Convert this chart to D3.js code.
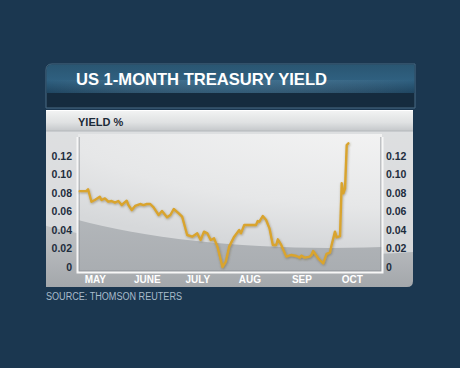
<!DOCTYPE html>
<html>
<head>
<meta charset="utf-8">
<script src="https://cdn.jsdelivr.net/npm/d3@7"></script>
<style>
  html, body { margin: 0; padding: 0; background: #1b3750; }
  svg { display: block; }
  text { font-family: "Liberation Sans", Arial, sans-serif; }
</style>
</head>
<body>
<svg id="chart" width="460" height="368"></svg>
<script>
// ---- data ----
const dates = ["2013-04-22","2013-04-26","2013-04-27","2013-04-29","2013-05-01","2013-05-04","2013-05-05","2013-05-07","2013-05-09","2013-05-11",
  "2013-05-13","2013-05-15","2013-05-17","2013-05-20","2013-05-21","2013-05-23","2013-05-25","2013-05-28","2013-05-30","2013-06-01",
  "2013-06-03","2013-06-05","2013-06-08","2013-06-10","2013-06-13","2013-06-15","2013-06-17","2013-06-20","2013-06-22","2013-06-25",
  "2013-06-28","2013-07-01","2013-07-03","2013-07-05","2013-07-07","2013-07-09","2013-07-11","2013-07-13","2013-07-15","2013-07-16",
  "2013-07-18","2013-07-20","2013-07-23","2013-07-26","2013-07-27","2013-07-29","2013-08-01","2013-08-05","2013-08-06","2013-08-07",
  "2013-08-09","2013-08-11","2013-08-13","2013-08-15","2013-08-17","2013-08-18","2013-08-20","2013-08-23","2013-08-26","2013-08-29",
  "2013-08-31","2013-09-01","2013-09-03","2013-09-06","2013-09-07","2013-09-08","2013-09-11","2013-09-14","2013-09-16","2013-09-18",
  "2013-09-19","2013-09-21","2013-09-22","2013-09-24","2013-09-25","2013-09-26","2013-09-27","2013-09-28","2013-09-29"];
const yields = [0.082,0.082,0.084,0.0706,0.0724,0.076,0.0724,0.0742,0.0706,0.0714,
  0.0696,0.0714,0.067,0.0717,0.067,0.0616,0.066,0.0681,0.067,0.0681,
  0.0681,0.0645,0.0562,0.0605,0.0537,0.0562,0.0627,0.058,0.0544,0.0346,
  0.0328,0.0364,0.0292,0.0382,0.0364,0.0292,0.031,0.022,0.0076,0.0,
  0.0058,0.022,0.0328,0.040,0.0364,0.0454,0.0454,0.0454,0.0497,0.049,
  0.0551,0.0508,0.0418,0.0238,0.0238,0.0299,0.0238,0.0112,0.013,0.0119,
  0.0101,0.0123,0.0101,0.0112,0.013,0.0173,0.0094,0.004,0.0141,0.0155,
  0.0238,0.0382,0.0321,0.0335,0.0905,0.0796,0.085,0.1319,0.1337];
const yTickValues = [0, 0.02, 0.04, 0.06, 0.08, 0.10, 0.12];
const yTickLabels = ["0", "0.02", "0.04", "0.06", "0.08", "0.10", "0.12"];
const monthTicks = ["2013-05-01","2013-06-01","2013-07-01","2013-08-01","2013-09-01","2013-10-01"];
const monthLabels = ["MAY", "JUNE", "JULY", "AUG", "SEP", "OCT"];
const titleText = "US 1-MONTH TREASURY YIELD";
const unitText = "YIELD %";
const sourceText = "SOURCE: THOMSON REUTERS";

// ---- setup ----
const parse = d3.timeParse("%Y-%m-%d");
const data = dates.map((d, i) => ({ date: parse(d), value: yields[i] }));
const svg = d3.select("#chart");
const defs = svg.append("defs");

const plot = { left: 78, right: 382, top: 134, bottom: 272 };
const x = d3.scaleTime().domain([parse("2013-04-21"), parse("2013-10-19")]).range([plot.left, plot.right]);
const y = d3.scaleLinear().domain([0, 0.12]).range([267, 156]);

function lg(id, stops, x1 = 0, y1 = 0, x2 = 0, y2 = 1) {
  const g = defs.append("linearGradient").attr("id", id)
    .attr("x1", x1).attr("y1", y1).attr("x2", x2).attr("y2", y2);
  stops.forEach(s => g.append("stop").attr("offset", s[0]).attr("stop-color", s[1]));
}
lg("hdrTop", [[0, "#2a5672"], [0.55, "#2f6080"], [1, "#1f4560"]]);
lg("hdrGloss", [[0, "rgba(255,255,255,0)"], [0.5, "rgba(120,170,200,0.35)"], [1, "rgba(255,255,255,0)"]], 0, 0, 1, 0);
lg("panelG", [[0, "#d3d5d7"], [0.5, "#c9cbce"], [0.75, "#b9bcbf"], [1, "#a3a7ab"]]);
lg("bandG", [[0, "#f3f4f4"], [0.6, "#dfe1e2"], [1, "#c4c7ca"]]);
lg("plotG", [[0, "#c2c5c8"], [1, "#a9adb1"]]);
const rg = defs.append("radialGradient").attr("id", "hiG").attr("cx", 0.6).attr("cy", 0.3).attr("r", 0.7);
rg.append("stop").attr("offset", 0).attr("stop-color", "#f6f6f6");
rg.append("stop").attr("offset", 0.7).attr("stop-color", "#e6e7e8");
rg.append("stop").attr("offset", 1).attr("stop-color", "#d6d8da");
defs.append("clipPath").attr("id", "plotClip").append("rect")
  .attr("x", plot.left).attr("y", plot.top).attr("width", plot.right - plot.left).attr("height", plot.bottom - plot.top);
defs.append("clipPath").attr("id", "panelClip").append("rect")
  .attr("x", 46).attr("y", 110).attr("width", 367).attr("height", 177);
const sh = defs.append("filter").attr("id", "shadow").attr("x", -0.1).attr("y", -0.1).attr("width", 1.2).attr("height", 1.3);
sh.append("feDropShadow").attr("dx", 0.6).attr("dy", 1).attr("stdDeviation", 0.8).attr("flood-color", "#5a4a20").attr("flood-opacity", 0.45);

// ---- header box ----
const hdr = svg.append("g");
hdr.append("path")
  .attr("d", "M46,108 L46,70 Q46,64 52,64 L415,64 L415,108 Z")
  .attr("fill", "#152b3e").attr("stroke", "#4b6d85").attr("stroke-width", 1);
hdr.append("path")
  .attr("d", "M46.5,93 L46.5,70 Q46.5,64.5 52,64.5 L414.5,64.5 L414.5,93 Z")
  .attr("fill", "url(#hdrTop)");
hdr.append("path")
  .attr("d", "M46.5,93 L46.5,80 L414.5,80 L414.5,93 Z")
  .attr("fill", "url(#hdrGloss)").attr("opacity", 0.6);
hdr.append("text")
  .attr("x", 76).attr("y", 85)
  .attr("font-size", 17).attr("font-weight", "bold").attr("fill", "#ffffff")
  .attr("textLength", 251).attr("lengthAdjust", "spacingAndGlyphs")
  .text(titleText);

// ---- chart panel ----
const panel = svg.append("g");
panel.append("path")
  .attr("d", "M46,110 L413,110 L413,281 Q413,287 407,287 L46,287 Z")
  .attr("fill", "url(#panelG)");
const pc = panel.append("g").attr("clip-path", "url(#panelClip)");
pc.append("ellipse").attr("cx", 320).attr("cy", 160).attr("rx", 380).attr("ry", 95)
  .attr("fill", "#e2e4e5").attr("opacity", 0.7);
// top band
panel.append("rect").attr("x", 46).attr("y", 110).attr("width", 367).attr("height", 21)
  .attr("fill", "url(#bandG)");
panel.append("line").attr("x1", 46).attr("x2", 413).attr("y1", 110.5).attr("y2", 110.5)
  .attr("stroke", "#ffffff").attr("stroke-width", 1);
panel.append("line").attr("x1", 46).attr("x2", 413).attr("y1", 131).attr("y2", 131)
  .attr("stroke", "#b4b8bb").attr("stroke-width", 1);
panel.append("text")
  .attr("x", 78).attr("y", 126)
  .attr("font-size", 11).attr("font-weight", "bold").attr("fill", "#1c2a38")
  .text(unitText);

// plot area
const pa = panel.append("g").attr("clip-path", "url(#plotClip)");
pa.append("rect").attr("x", plot.left).attr("y", plot.top)
  .attr("width", plot.right - plot.left).attr("height", plot.bottom - plot.top)
  .attr("fill", "url(#plotG)");
pa.append("ellipse").attr("cx", 330).attr("cy", 150).attr("rx", 360).attr("ry", 98)
  .attr("fill", "url(#hiG)");

// frame lines (left, bottom, right)
const frame = panel.append("g");
frame.append("path")
  .attr("d", `M${plot.left + 1},${plot.top + 3} L${plot.left + 1},${plot.bottom - 1} L${plot.right - 1},${plot.bottom - 1} L${plot.right - 1},${plot.top + 3}`)
  .attr("fill", "none").attr("stroke", "#8f9398").attr("stroke-width", 1);
frame.append("path")
  .attr("d", `M${plot.left - 0.5},${plot.top + 3} L${plot.left - 0.5},${plot.bottom + 0.5} L${plot.right + 0.5},${plot.bottom + 0.5} L${plot.right + 0.5},${plot.top + 3}`)
  .attr("fill", "none").attr("stroke", "#f7f7f7").attr("stroke-width", 2);

// ---- axes ----
const yFmt = d => yTickLabels[yTickValues.indexOf(d)];
const axL = svg.append("g").attr("transform", `translate(${plot.left},0)`)
  .call(d3.axisLeft(y).tickValues(yTickValues).tickFormat(yFmt).tickSize(0).tickPadding(6));
const axR = svg.append("g").attr("transform", `translate(${plot.right},0)`)
  .call(d3.axisRight(y).tickValues(yTickValues).tickFormat(yFmt).tickSize(0).tickPadding(4));
[axL, axR].forEach(a => {
  a.select(".domain").remove();
  a.selectAll("text").attr("font-family", "'Liberation Sans', Arial, sans-serif")
    .attr("font-size", 10.5).attr("font-weight", "bold").attr("fill", "#1e2d3d");
});
const mt = monthTicks.map(parse);
const axB = svg.append("g").attr("transform", `translate(0,${plot.bottom})`)
  .call(d3.axisBottom(x).tickValues(mt).tickFormat((d, i) => monthLabels[i]).tickSize(0).tickPadding(4));
axB.select(".domain").remove();
axB.selectAll("text").attr("font-family", "'Liberation Sans', Arial, sans-serif")
  .attr("font-size", 10).attr("font-weight", "bold").attr("fill", "#ffffff");

// ---- line ----
const line = d3.line().x(d => x(d.date)).y(d => y(d.value)).curve(d3.curveLinear);
svg.append("path").datum(data)
  .attr("d", line)
  .attr("fill", "none").attr("stroke", "#d9a42e").attr("stroke-width", 2.4)
  .attr("stroke-linejoin", "round").attr("stroke-linecap", "round")
  .attr("filter", "url(#shadow)");

// ---- source ----
svg.append("text")
  .attr("x", 46).attr("y", 300)
  .attr("font-size", 10).attr("fill", "#a9bccb")
  .attr("textLength", 136).attr("lengthAdjust", "spacingAndGlyphs")
  .text(sourceText);
</script>
</body>
</html>
